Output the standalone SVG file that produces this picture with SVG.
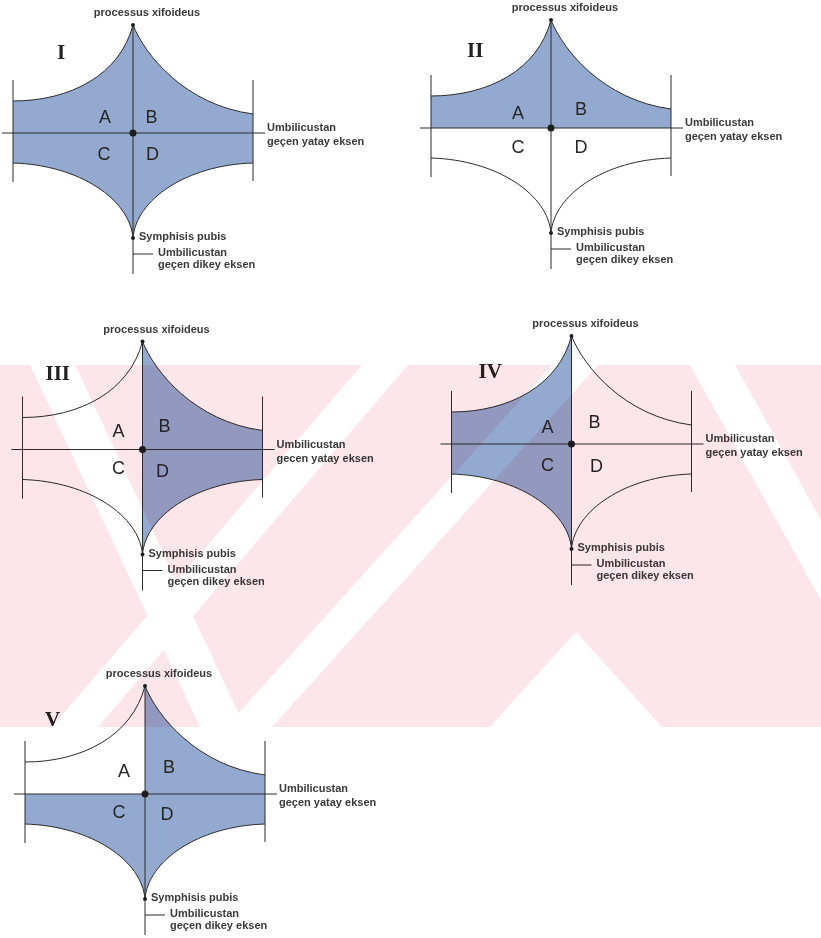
<svg xmlns="http://www.w3.org/2000/svg" width="821" height="938" viewBox="0 0 821 938">
<defs>
<style>
.bg{fill:#ffffff}
.wm{fill:#fce6ea}
.wmw{fill:#ffffff}
#watermark{mix-blend-mode:multiply}
.q{fill:#94a9cf;stroke:none}
.ln{fill:none;stroke:#2b2b2b;stroke-width:1}
.dot{fill:#1e1e1e}
.lbl{font-family:"Liberation Sans",Arial,sans-serif;font-size:11px;font-weight:bold;fill:#3a3a3a}
.let{font-family:"Liberation Sans",Arial,sans-serif;font-size:18px;fill:#262626;text-anchor:middle}
.rom{font-family:"Liberation Serif","Times New Roman",serif;font-size:21px;font-weight:bold;fill:#222}
</style>
<clipPath id="wmclip"><rect x="0" y="365" width="821" height="362"/></clipPath>
<path id="qA" d="M0,0 L-120,0 L-120,-32 C-63,-32 -13,-58 0,-108 Z"/>
<path id="qB" d="M0,0 L0,-108 C12,-78 52,-28 120,-19 L120,0 Z"/>
<path id="qC" d="M0,0 L0,105 C-3,67 -53,32 -120,30 L-120,0 Z"/>
<path id="qD" d="M0,0 L120,0 L120,30 C53,32 3,67 0,105 Z"/>
<g id="frame">
<path class="ln" d="M-120,-32 C-63,-32 -13,-58 0,-108 C12,-78 52,-28 120,-19"/>
<path class="ln" d="M120,30 C53,32 3,67 0,105 C-3,67 -53,32 -120,30"/>
<path class="ln" d="M-120,-53 V49 M120,-53 V48 M-131,0 H132 M0,-108 V141 M0,121 H20"/>
<circle class="dot" cx="0" cy="-108" r="2"/>
<circle class="dot" cx="0" cy="105" r="2"/>
<circle class="dot" cx="0" cy="0" r="3.5"/>
<text class="lbl" x="14" y="-117" text-anchor="middle">processus xifoideus</text>
<text class="lbl" x="134" y="-2">Umbilicustan</text>
<text class="lbl" x="6" y="107">Symphisis pubis</text>
<text class="lbl" x="25" y="123">Umbilicustan</text>
<text class="lbl" x="25" y="135">geçen dikey eksen</text>
</g>
</defs>
<rect class="bg" x="0" y="0" width="821" height="938"/>
<g id="diagram-I" transform="translate(133,133)">
<use href="#qA" class="q"/><use href="#qB" class="q"/><use href="#qC" class="q"/><use href="#qD" class="q"/>
<use href="#frame"/>
<text class="lbl" x="134" y="12">geçen yatay eksen</text>
<text class="rom" x="-76" y="-74">I</text>
<text class="let" x="-28" y="-10.5">A</text><text class="let" x="18.5" y="-10.5">B</text>
<text class="let" x="-29" y="26.5">C</text><text class="let" x="19.5" y="26.5">D</text>
</g>
<g id="diagram-II" transform="translate(551,128)">
<use href="#qA" class="q"/><use href="#qB" class="q"/>
<use href="#frame"/>
<text class="lbl" x="134" y="12">geçen yatay eksen</text>
<text class="rom" x="-84" y="-71">II</text>
<text class="let" x="-33" y="-9.5">A</text><text class="let" x="30" y="-13">B</text>
<text class="let" x="-33" y="25">C</text><text class="let" x="30" y="25">D</text>
</g>
<g id="diagram-III" transform="translate(142.5,449.5)">
<use href="#qB" class="q"/><use href="#qD" class="q"/>
<use href="#frame"/>
<text class="lbl" x="134" y="12">gecen yatay eksen</text>
<text class="rom" x="-97" y="-70">III</text>
<text class="let" x="-24" y="-13">A</text><text class="let" x="22" y="-18">B</text>
<text class="let" x="-24" y="24">C</text><text class="let" x="20" y="27">D</text>
</g>
<g id="diagram-IV" transform="translate(571.5,444)">
<use href="#qA" class="q"/><use href="#qC" class="q"/>
<use href="#frame"/>
<text class="lbl" x="134" y="12">geçen yatay eksen</text>
<text class="rom" x="-93" y="-66">IV</text>
<text class="let" x="-24" y="-11">A</text><text class="let" x="23" y="-16">B</text>
<text class="let" x="-24" y="27">C</text><text class="let" x="25" y="28">D</text>
</g>
<g id="diagram-V" transform="translate(145,794)">
<use href="#qB" class="q"/><use href="#qC" class="q"/><use href="#qD" class="q"/>
<use href="#frame"/>
<text class="lbl" x="134" y="12">geçen yatay eksen</text>
<text class="rom" x="-100" y="-68">V</text>
<text class="let" x="-21" y="-17">A</text><text class="let" x="24" y="-21">B</text>
<text class="let" x="-26" y="24">C</text><text class="let" x="22" y="26">D</text>
</g>
<g id="watermark" clip-path="url(#wmclip)">
<rect class="wm" x="0" y="365" width="821" height="362"/>
<path class="wmw" d="M30,365 L75,365 L245,727 L200,727 Z"/>
<path class="wmw" d="M362,365 L408,365 L98,727 L52,727 Z"/>
<path class="wmw" d="M552,365 L598,365 L272,727 L226,727 Z"/>
<path class="wmw" d="M576,632 L662,727 L490,727 Z"/>
<path class="wmw" d="M690,365 L735,365 L821,520 L821,600 Z"/>
</g>
</svg>
